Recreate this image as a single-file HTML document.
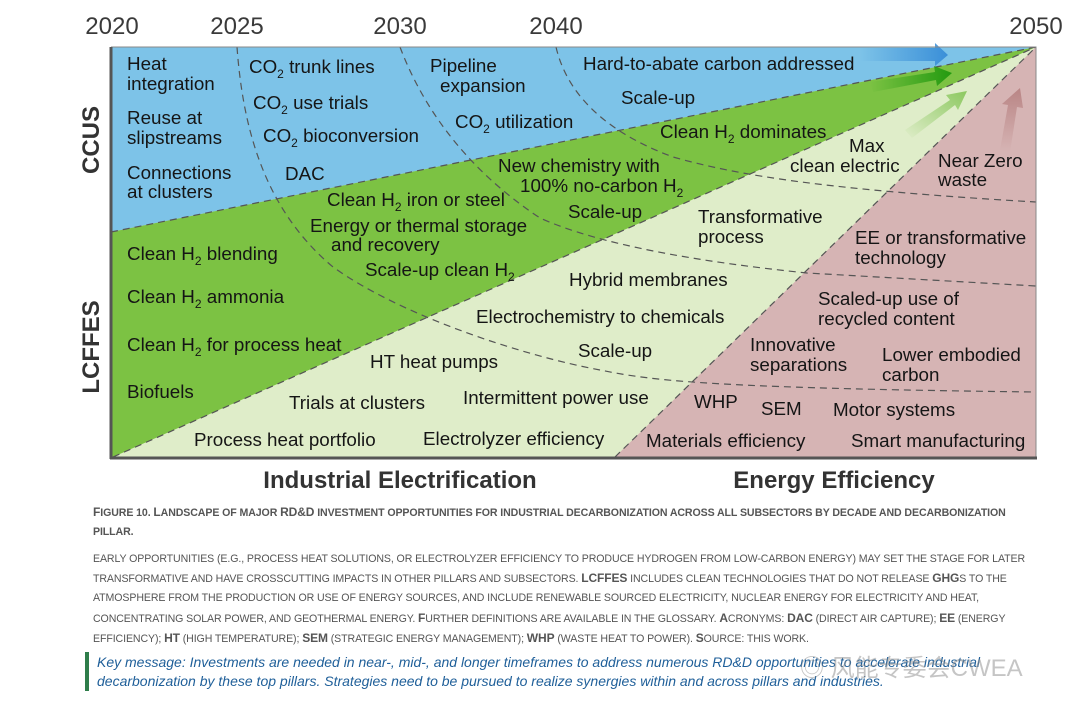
<!DOCTYPE html>
<html><head><meta charset="utf-8">
<style>
body{margin:0;background:#fff;width:1080px;height:711px;overflow:hidden;font-family:"Liberation Sans",sans-serif}
svg{position:absolute;left:0;top:0}
.t{font-size:18.8px;fill:#151515}
.yr{font-size:24px;fill:#3a3a3a}
.ax{font-size:24px;font-weight:bold;fill:#333}
.cap{position:absolute;left:93px;text-transform:uppercase;color:#555;font-family:"Liberation Sans Narrow","Liberation Sans",sans-serif;font-size:10.6px;letter-spacing:-0.1px}
.cap b{font-size:12px}
</style></head><body>
<svg width="1080" height="711">
<defs>
<linearGradient id="gb" x1="0" x2="1"><stop offset="0" stop-color="#3a8fd8" stop-opacity="0"/><stop offset="1" stop-color="#3a8fd8"/></linearGradient>
<linearGradient id="gg" x1="0" x2="1"><stop offset="0" stop-color="#239a10" stop-opacity="0"/><stop offset="1" stop-color="#239a10"/></linearGradient>
<linearGradient id="gl" x1="0" y1="1" x2="1" y2="0"><stop offset="0" stop-color="#8cc860" stop-opacity="0"/><stop offset="1" stop-color="#8cc860"/></linearGradient>
<linearGradient id="gp" x1="0" y1="1" x2="0" y2="0"><stop offset="0" stop-color="#b98585" stop-opacity="0"/><stop offset="1" stop-color="#b98585"/></linearGradient>
</defs>
<g>
<rect x="111" y="47" width="925" height="410" fill="#dfedc9"/>
<polygon points="111,47 1036,47 111,232" fill="#7dc3e8"/>
<polygon points="111,232 1036,47 113,457 111,457" fill="#7cc243"/>
<polygon points="615,457 1036,47 1036,457" fill="#d6b4b4"/>
<g stroke="#555" stroke-width="1.2" stroke-dasharray="7,5" fill="none">
<line x1="111" y1="232" x2="1036" y2="47"/>
<line x1="113" y1="457" x2="1036" y2="47"/>
<line x1="615" y1="457" x2="1036" y2="47"/>
<path d="M237,47 C243,130 265,210 333,267 C400,315 520,355 600,370 C650,380 700,388 1036,392"/>
<path d="M400,47 C420,100 460,165 540,218 C600,245 700,262 807,273 L1036,286"/>
<path d="M556,47 C566,90 600,130 673,157 C740,176 830,190 1036,202"/>
</g>
<polygon points="860,48 935,48 935,43 948,55 935,66 935,61 860,61" fill="url(#gb)"/>
<polygon points="870,82 935,72 934,66 952,73 937,86 936,80 873,92" fill="url(#gg)"/>
<polygon points="905,130 950,100 946,95 967,91 958,110 955,105 912,138" fill="url(#gl)"/>
<polygon points="1000,150 1008,105 1002,104 1020,88 1023,108 1017,107 1010,152" fill="url(#gp)"/>
<path d="M111,47 V457 H1036 V47 H111" fill="none" stroke="#888" stroke-width="1"/>
<line x1="111" y1="47" x2="111" y2="459" stroke="#555" stroke-width="3"/>
<line x1="110" y1="458" x2="1037" y2="458" stroke="#555" stroke-width="3"/>
</g>
<g class="t">
<text x="127" y="70">Heat</text><text x="127" y="90">integration</text>
<text x="127" y="124">Reuse at</text><text x="127" y="144">slipstreams</text>
<text x="127" y="179">Connections</text><text x="127" y="198">at clusters</text>
<text x="249" y="73">CO<tspan font-size="12" dy="5">2</tspan><tspan dy="-5"> trunk lines</tspan></text>
<text x="253" y="109">CO<tspan font-size="12" dy="5">2</tspan><tspan dy="-5"> use trials</tspan></text>
<text x="263" y="142">CO<tspan font-size="12" dy="5">2</tspan><tspan dy="-5"> bioconversion</tspan></text>
<text x="285" y="180">DAC</text>
<text x="430" y="72">Pipeline</text><text x="440" y="92">expansion</text>
<text x="455" y="128">CO<tspan font-size="12" dy="5">2</tspan><tspan dy="-5"> utilization</tspan></text>
<text x="583" y="70">Hard-to-abate carbon addressed</text>
<text x="621" y="104">Scale-up</text>
<text x="660" y="138">Clean H<tspan font-size="12" dy="5">2</tspan><tspan dy="-5"> dominates</tspan></text>
<text x="849" y="152">Max</text><text x="790" y="172">clean electric</text>
<text x="938" y="167">Near Zero</text><text x="938" y="186">waste</text>
<text x="498" y="172">New chemistry with</text>
<text x="520" y="192">100% no-carbon H<tspan font-size="12" dy="5">2</tspan></text>
<text x="327" y="206">Clean H<tspan font-size="12" dy="5">2</tspan><tspan dy="-5"> iron or steel</tspan></text>
<text x="568" y="218">Scale-up</text>
<text x="310" y="232">Energy or thermal storage</text><text x="331" y="251">and recovery</text>
<text x="698" y="223">Transformative</text><text x="698" y="243">process</text>
<text x="855" y="244">EE or transformative</text><text x="855" y="264">technology</text>
<text x="127" y="260">Clean H<tspan font-size="12" dy="5">2</tspan><tspan dy="-5"> blending</tspan></text>
<text x="365" y="276">Scale-up clean H<tspan font-size="12" dy="5">2</tspan></text>
<text x="569" y="286">Hybrid membranes</text>
<text x="127" y="303">Clean H<tspan font-size="12" dy="5">2</tspan><tspan dy="-5"> ammonia</tspan></text>
<text x="818" y="305">Scaled-up use of</text><text x="818" y="325">recycled content</text>
<text x="476" y="323">Electrochemistry to chemicals</text>
<text x="127" y="351">Clean H<tspan font-size="12" dy="5">2</tspan><tspan dy="-5"> for process heat</tspan></text>
<text x="750" y="351">Innovative</text><text x="750" y="371">separations</text>
<text x="882" y="361">Lower embodied</text><text x="882" y="381">carbon</text>
<text x="578" y="357">Scale-up</text>
<text x="370" y="368">HT heat pumps</text>
<text x="127" y="398">Biofuels</text>
<text x="463" y="404">Intermittent power use</text>
<text x="289" y="409">Trials at clusters</text>
<text x="694" y="408">WHP</text><text x="761" y="415">SEM</text><text x="833" y="416">Motor systems</text>
<text x="194" y="446">Process heat portfolio</text>
<text x="423" y="445">Electrolyzer efficiency</text>
<text x="646" y="447">Materials efficiency</text>
<text x="851" y="447">Smart manufacturing</text>
</g>
<g class="yr" text-anchor="middle">
<text x="112" y="34">2020</text><text x="237" y="34">2025</text><text x="400" y="34">2030</text><text x="556" y="34">2040</text><text x="1036" y="34">2050</text>
</g>
<text class="ax" transform="translate(99,140) rotate(-90)" text-anchor="middle">CCUS</text>
<text class="ax" transform="translate(99,347) rotate(-90)" text-anchor="middle">LCFFES</text>
<text class="ax" x="400" y="488" text-anchor="middle">Industrial Electrification</text>
<text class="ax" x="834" y="488" text-anchor="middle">Energy Efficiency</text>
</svg>
<div class="cap" style="top:503px;width:945px;line-height:19px;font-weight:bold"><b>F</b>igure 10. <b>L</b>andscape of major <b>RD&amp;D</b> investment opportunities for industrial decarbonization across all subsectors by decade and decarbonization pillar.</div>
<div class="cap" style="top:550px;width:960px;line-height:19.2px">early opportunities (e.g., process heat solutions, or electrolyzer efficiency to produce hydrogen from low-carbon energy) may set the stage for later transformative and have crosscutting impacts in other pillars and subsectors. <b>LCFFES</b> includes clean technologies that do not release <b>GHG</b>s to the atmosphere from the production or use of energy sources, and include renewable sourced electricity, nuclear energy for electricity and heat, concentrating solar power, and geothermal energy. <b>F</b>urther definitions are available in the glossary. <b>A</b>cronyms: <b>DAC</b> (direct air capture); <b>EE</b> (energy efficiency); <b>HT</b> (high temperature); <b>SEM</b> (strategic energy management); <b>WHP</b> (waste heat to power). <b>S</b>ource: this work.</div>
<div style="position:absolute;left:85px;top:652px;width:4px;height:39px;background:#2e7d4a"></div>
<div style="position:absolute;left:97px;top:653px;width:900px;font-size:14px;font-style:italic;color:#1f5f99;line-height:19px;font-family:'Liberation Sans Narrow','Liberation Sans',sans-serif">Key message: Investments are needed in near-, mid-, and longer timeframes to address numerous RD&amp;D opportunities to accelerate industrial decarbonization by these top pillars. Strategies need to be pursued to realize synergies within and across pillars and industries.</div>
<div style="position:absolute;left:800px;top:648px;font-size:24px;color:rgba(140,140,140,0.5);font-family:'Liberation Sans','Noto Sans CJK SC',sans-serif">◎ 风能专委会CWEA</div>
</body></html>
